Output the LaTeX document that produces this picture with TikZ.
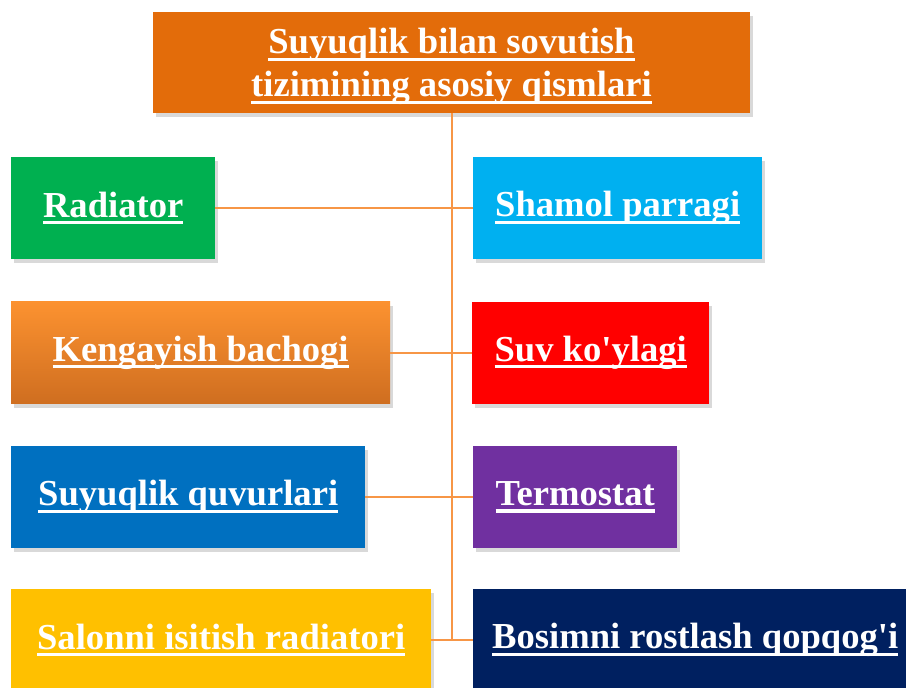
\documentclass[tikz,border=0pt]{standalone}
\usepackage{fontspec}
\setmainfont{Liberation Serif}
\usepackage{tikz}
\usetikzlibrary{shadows}

\definecolor{headorange}{HTML}{E36C0A}
\definecolor{radgreen}{HTML}{00B050}
\definecolor{fancyan}{HTML}{00B0F0}
\definecolor{jacketred}{HTML}{FF0000}
\definecolor{pipeblue}{HTML}{0070C0}
\definecolor{thermpurple}{HTML}{7030A0}
\definecolor{heatyellow}{HTML}{FFC000}
\definecolor{capnavy}{HTML}{002060}
\definecolor{tanktop}{RGB}{252,146,48}
\definecolor{tankbottom}{RGB}{207,110,32}
\definecolor{linkorange}{HTML}{F79646}

\newsavebox\ulbox
\newcommand\uln[1]{\sbox\ulbox{#1}\rlap{\rule[-0.2em]{\wd\ulbox}{0.09em}}\usebox\ulbox}

\begin{document}
\begin{tikzpicture}[x=1pt,y=-1pt,
    box font/.style={font=\fontsize{36.6}{43}\selectfont\bfseries},
    part node/.style={rectangle,anchor=west,inner sep=0pt,minimum height=102pt,
      text=white,box font,drop shadow={shadow xshift=3pt,shadow yshift=-4pt,opacity=0.3}},
    head node/.style={part node,anchor=center,align=center,fill=headorange},
    link/.style={draw=linkorange,line width=2pt}]

  \useasboundingbox (0,0) rectangle (906,688);
  \clip (0,0) rectangle (906,688);

  \node[head node,minimum width=597pt,minimum height=101pt,text depth=0pt] (title) at (451.5,62.5)
    {\uln{Suyuqlik bilan sovutish}\\\uln{tizimining asosiy qismlari}};

  % left column
  \node[part node,fill=radgreen,minimum width=204pt] (radiator) at (11,208) {\uln{Radiator}};
  \node[part node,top color=tanktop,bottom color=tankbottom,minimum width=379pt] (tank) at (11,352.5) {\uln{Kengayish bachogi}};
  \node[part node,fill=pipeblue,minimum width=354pt] (pipes) at (11,497) {\uln{Suyuqlik quvurlari}};
  \node[part node,fill=heatyellow,minimum width=420pt] (heater) at (11,640) {\uln{Salonni isitish radiatori}};

  % right column
  \node[part node,fill=fancyan,minimum width=289pt] (fan) at (473,208) {\uln{Shamol parragi}};
  \node[part node,fill=jacketred,minimum width=237pt] (jacket) at (472,352.5) {\uln{Suv ko\textquotesingle ylagi}};
  \node[part node,fill=thermpurple,minimum width=204pt] (thermo) at (473,497) {\uln{Termostat}};
  \node[part node,fill=capnavy,minimum width=444pt] (cap) at (473,640) {\uln{Bosimni rostlash qopqog\textquotesingle i}};

  \path[link] (title.south) -- (title.south |- cap.west)
        (radiator.east) -- (fan.west)
        (tank.east) -- (jacket.west)
        (pipes.east) -- (thermo.west)
        (heater.east) -- (cap.west);

\end{tikzpicture}
\end{document}
